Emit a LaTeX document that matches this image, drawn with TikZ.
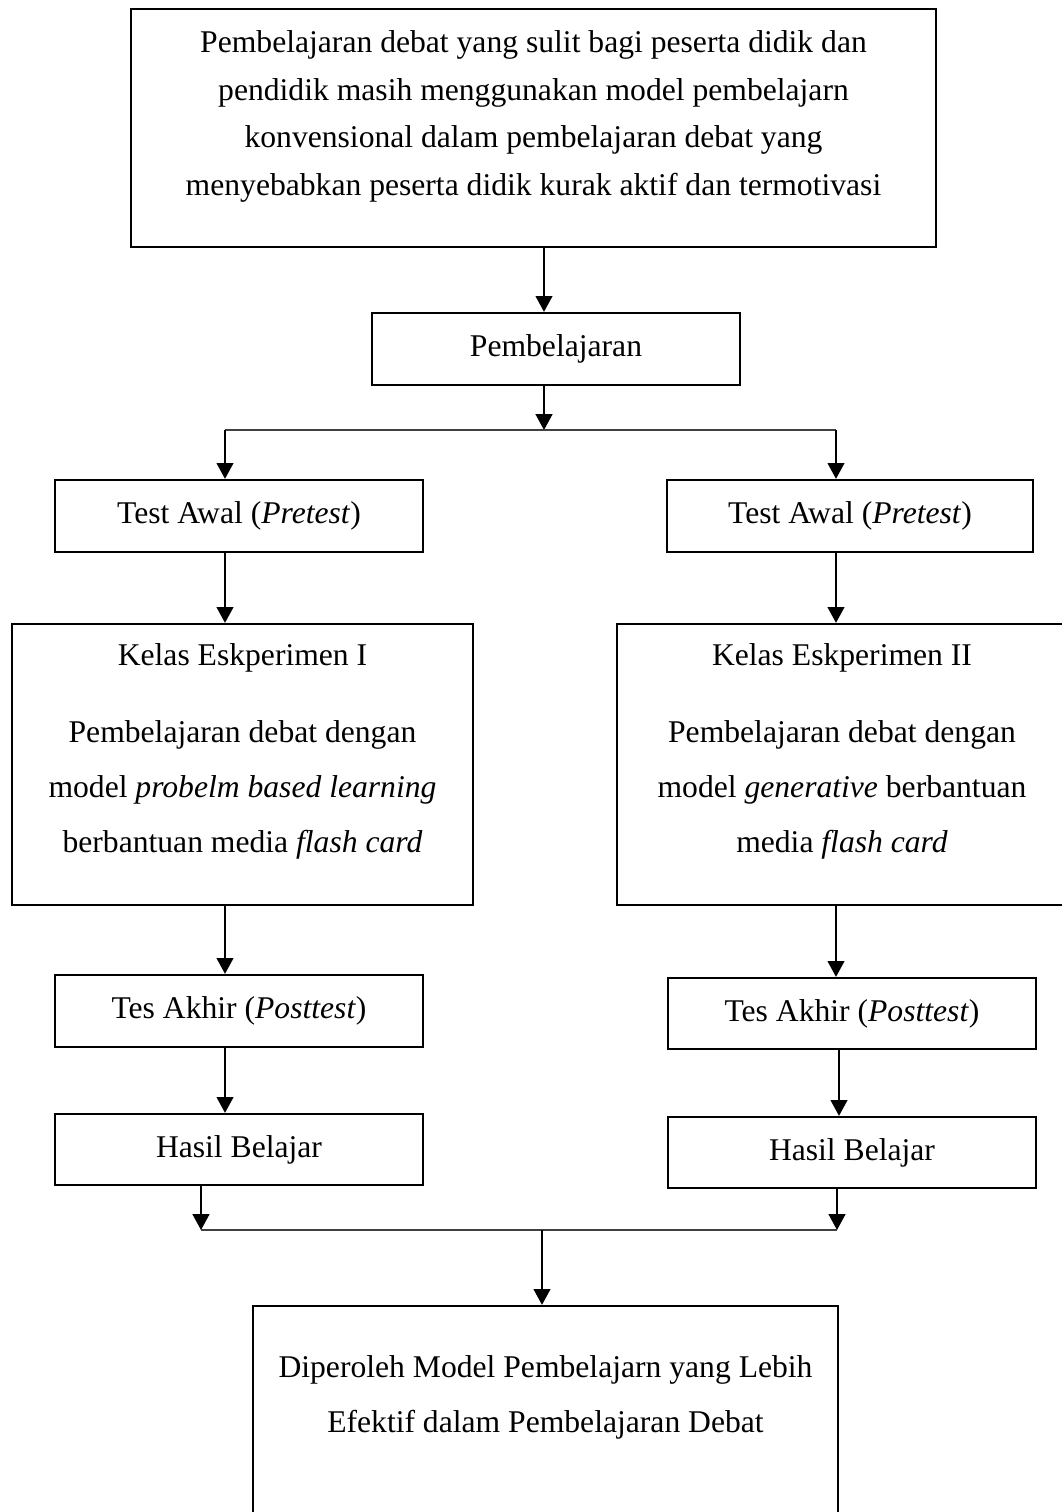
\documentclass[tikz,border=0pt]{standalone}
\usepackage{fontspec}
\setmainfont{Liberation Serif}
\usetikzlibrary{arrows.meta}

\begin{document}
\begin{tikzpicture}[x=0.02cm,y=-0.02cm]
  \tikzset{kotak/.style={draw,line width=1.3pt,inner sep=0pt},
           teks/.style={align=center,inner sep=0pt,font=\fontsize{18}{27}\selectfont},
           teks lebar/.style={teks,font=\fontsize{18}{31.2}\selectfont},
           panah/.style={line width=1.1pt,-{Triangle[width=9.5pt,length=9pt]}},
           garis/.style={line width=0.7pt,black!75}}

  \useasboundingbox[fill=white] (0,0) rectangle (1062,1512);

  \coordinate (cabang) at (544,430);
  \coordinate (cabangkiri) at (225,430);
  \coordinate (cabangkanan) at (836,430);
  \coordinate (gabung) at (542,1230);
  \coordinate (gabungkiri) at (201,1230);
  \coordinate (gabungkanan) at (837,1230);

  \node [kotak,minimum width=16.1cm,minimum height=4.76cm] (masalah) at (533.5,128) {};
  \node [teks] (masalahteks) at (533.5,116.5) {Pembelajaran debat yang sulit bagi peserta didik dan\\pendidik masih menggunakan model pembelajarn\\konvensional dalam pembelajaran debat yang\\menyebabkan peserta didik kurak aktif dan termotivasi};
  \node [kotak,teks,minimum width=7.36cm,minimum height=1.44cm] (pembelajaran) at (556,349) {Pembelajaran};

  \node [kotak,teks,minimum width=7.36cm,minimum height=1.44cm] (awal1) at (239,516) {Test Awal (\textit{Pretest})};
  \node [kotak,teks,minimum width=7.32cm,minimum height=1.44cm] (awal2) at (850,516) {Test Awal (\textit{Pretest})};

  \node [kotak,minimum width=9.22cm,minimum height=5.62cm] (kelas1) at (242.5,764.5) {};
  \node [teks] (judul1) at (242.5,658) {Kelas Eskperimen I};
  \node [teks lebar] (isi1) at (242.5,790) {Pembelajaran debat dengan\\model \textit{probelm based learning}\\berbantuan media \textit{flash card}};
  \node [kotak,minimum width=9cm,minimum height=5.62cm] (kelas2) at (842,764.5) {};
  \node [teks] (judul2) at (842,658) {Kelas Eskperimen II};
  \node [teks lebar] (isi2) at (842,790) {Pembelajaran debat dengan\\model \textit{generative} berbantuan\\media \textit{flash card}};

  \node [kotak,teks,minimum width=7.36cm,minimum height=1.44cm] (akhir1) at (239,1011) {Tes Akhir (\textit{Posttest})};
  \node [kotak,teks,minimum width=7.36cm,minimum height=1.42cm] (akhir2) at (852,1013.5) {Tes Akhir (\textit{Posttest})};
  \node [kotak,teks,minimum width=7.36cm,minimum height=1.42cm] (hasil1) at (239,1149.5) {Hasil Belajar};
  \node [kotak,teks,minimum width=7.36cm,minimum height=1.42cm] (hasil2) at (852,1152.5) {Hasil Belajar};

  \node [kotak,minimum width=11.7cm,minimum height=5.08cm] (hasil) at (545.5,1433) {};
  \node [teks lebar] (hasilteks) at (545.5,1397.5) {Diperoleh Model Pembelajarn yang Lebih\\Efektif dalam Pembelajaran Debat};

  % alur atas
  \draw [panah] (masalah.south -| cabang) -- (pembelajaran.north -| cabang);
  \draw [panah] (pembelajaran.south -| cabang) -- (cabang);
  \draw [garis] (cabangkiri) -- (cabangkanan);

  % kelas eksperimen I
  \draw [panah] (cabangkiri) -- (awal1.north -| cabangkiri);
  \draw [panah] (awal1.south -| cabangkiri) -- (kelas1.north -| cabangkiri);
  \draw [panah] (kelas1.south -| cabangkiri) -- (akhir1.north -| cabangkiri);
  \draw [panah] (akhir1.south -| cabangkiri) -- (hasil1.north -| cabangkiri);
  \draw [panah] (hasil1.south -| gabungkiri) -- (gabungkiri);

  % kelas eksperimen II
  \draw [panah] (cabangkanan) -- (awal2.north -| cabangkanan);
  \draw [panah] (awal2.south -| cabangkanan) -- (kelas2.north -| cabangkanan);
  \draw [panah] (kelas2.south -| cabangkanan) -- (akhir2.north -| cabangkanan);
  \draw [panah] ([xshift=3*0.02cm]akhir2.south -| cabangkanan) -- ([xshift=3*0.02cm]hasil2.north -| cabangkanan);
  \draw [panah] (hasil2.south -| gabungkanan) -- (gabungkanan);

  % alur bawah
  \draw [garis] (gabungkiri) -- (gabungkanan);
  \draw [panah] (gabung) -- (hasil.north -| gabung);
\end{tikzpicture}
\end{document}
